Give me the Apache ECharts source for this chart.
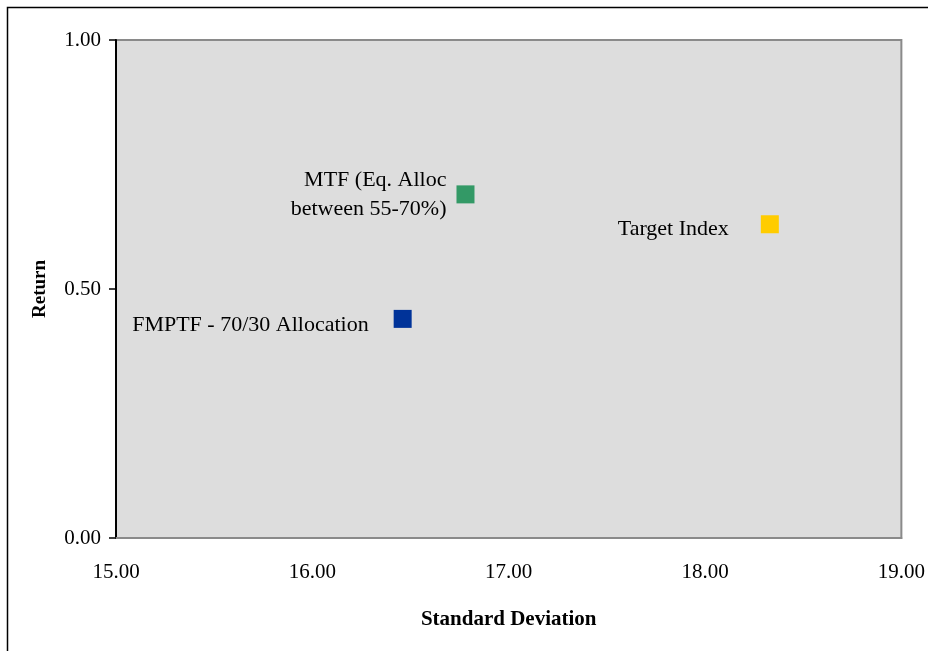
<!DOCTYPE html>
<html>
<head>
<meta charset="utf-8">
<script src="https://cdn.jsdelivr.net/npm/echarts@6/dist/echarts.min.js"></script>
<style>
  html, body { margin: 0; padding: 0; background: #fff; }
  #chart { width: 928px; height: 651px; }
</style>
</head>
<body>
<div id="chart"></div>
<script>
// Risk / return of each portfolio
const names = ['MTF (Eq. Alloc\nbetween 55-70%)', 'FMPTF - 70/30 Allocation', 'Target Index'];
const stdDev = [16.78, 16.46, 18.33];
const returns = [0.69, 0.44, 0.63];
const colors = ['#339966', '#003399', '#FFCC00'];
const labelGap = [10, 25, 32];
const labelShift = [0, 6, 5];

const xTicks = [15, 16, 17, 18, 19];
const yTicks = [0, 0.5, 1];

const FONT = '"Liberation Serif", "DejaVu Serif", serif';

const chart = echarts.init(document.getElementById('chart'), null, { renderer: 'canvas' });

const series = names.map((n, i) => ({
  type: 'scatter',
  name: n,
  symbol: 'rect',
  symbolSize: 18,
  itemStyle: { color: colors[i], opacity: 1 },
  data: [[stdDev[i], returns[i]]],
  label: {
    show: true,
    position: 'left',
    distance: labelGap[i],
    offset: [0, labelShift[i]],
    formatter: n,
    align: 'right',
    fontFamily: FONT,
    fontSize: 22,
    lineHeight: 29,
    color: '#000',
    opacity: 1
  }
}));

chart.setOption({
  backgroundColor: '#fff',
  animation: false,
  graphic: [{
    type: 'rect',
    shape: { x: 7.5, y: 7.5, width: 940, height: 660 },
    style: { fill: 'none', stroke: '#000', lineWidth: 1.5 },
    silent: true
  }],
  grid: {
    left: 116, top: 40, right: 26, bottom: 113,
    show: true,
    backgroundColor: '#DDDDDD',
    borderColor: '#8a8a8a',
    borderWidth: 2
  },
  xAxis: {
    type: 'value',
    min: 15, max: 19, interval: 1,
    name: 'Standard Deviation',
    nameLocation: 'middle',
    nameGap: 71,
    nameTextStyle: { fontFamily: FONT, fontSize: 21, fontWeight: 'bold', color: '#000' },
    axisLine: { show: true, lineStyle: { color: '#8a8a8a', width: 2 } },
    axisTick: { show: false },
    splitLine: { show: false },
    axisLabel: {
      margin: 24,
      fontFamily: FONT, fontSize: 21, color: '#000',
      formatter: v => xTicks.includes(v) ? v.toFixed(2) : ''
    }
  },
  yAxis: {
    type: 'value',
    min: 0, max: 1, interval: 0.5,
    name: 'Return',
    nameLocation: 'middle',
    nameGap: 66,
    nameRotate: 90,
    nameTextStyle: { fontFamily: FONT, fontSize: 19, fontWeight: 'bold', color: '#000' },
    axisLine: { show: true, lineStyle: { color: '#000', width: 2 } },
    axisTick: { show: true, inside: false, length: 7, lineStyle: { color: '#000', width: 1.5 } },
    splitLine: { show: false },
    axisLabel: {
      margin: 15,
      fontFamily: FONT, fontSize: 21, color: '#000',
      formatter: v => yTicks.includes(v) ? v.toFixed(2) : ''
    }
  },
  series: series
});
</script>
</body>
</html>
